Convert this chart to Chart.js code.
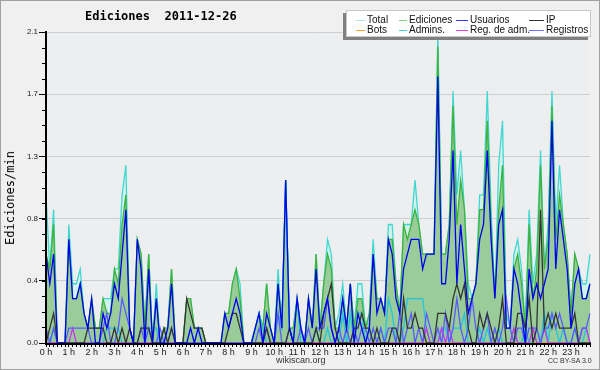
<!DOCTYPE html>
<html>
<head>
<meta charset="utf-8">
<script src="https://cdn.jsdelivr.net/npm/chart.js@4.4.1/dist/chart.umd.min.js"></script>
<style>
body{margin:0;background:#fff}
#caja{position:relative;width:600px;height:370px;overflow:hidden}
#caja canvas{position:absolute;left:0;top:0}
#marco{position:absolute;left:0;top:0;width:600px;height:370px;box-sizing:border-box;border:1px solid #a0a0a0;pointer-events:none}
#titulo{position:absolute;left:85px;top:9px;font:bold 12px "DejaVu Sans Mono",monospace;white-space:pre;color:#000}
#ytitulo{position:absolute;left:10px;top:198px;font:12px "DejaVu Sans Mono",monospace;color:#000;transform:translate(-50%,-50%) rotate(-90deg);white-space:nowrap}
#leyenda{position:absolute;left:346px;top:10px;width:245px;height:27px;background:#fff;border:1px solid #c8c8c8;box-sizing:border-box;box-shadow:-3px 3px 0 #808080;font:10px "Liberation Sans",Arial,sans-serif;color:#111}
#leyenda span{position:absolute;white-space:nowrap;line-height:11px}
#leyenda i{position:absolute;height:1px}
#pie1{position:absolute;left:276px;top:355px;font:9px "Liberation Sans",Arial,sans-serif;color:#333}
#pie2{position:absolute;left:548px;top:357px;font:7px "Liberation Sans",Arial,sans-serif;color:#333}
</style>
</head>
<body>
<div id="caja">
  <canvas id="grafico" width="600" height="370"></canvas>
  <div id="titulo">Ediciones  2011-12-26</div>
  <div id="ytitulo">Ediciones/min</div>
  <div id="leyenda"></div>
  <div id="pie1">wikiscan.org</div>
  <div id="pie2">CC BY-SA 3.0</div>
  <div id="marco"></div>
</div>
<script>
// etiquetas del eje x (una por hora) y del eje y
var horas = ['0 h','1 h','2 h','3 h','4 h','5 h','6 h','7 h','8 h','9 h','10 h','11 h',
             '12 h','13 h','14 h','15 h','16 h','17 h','18 h','19 h','20 h','21 h','22 h','23 h'];
var yTicks = [0, 0.42, 0.84, 1.26, 1.68, 2.1];

// ediciones por minuto, tramos de 10 minutos (6 por hora)
var total = [
 1.0,0.5,0.9,0,0,0,
 0.8,0.4,0.4,0.5,0.2,0.1,
 0.3,0.1,0.1,0.3,0.3,0.3,
 0.5,0.5,1.0,1.2,0.1,0,
 0.7,0.6,0.1,0.6,0,0.4,
 0,0.1,0.1,0.5,0,0,
 0,0.3,0.3,0.1,0.1,0.1,
 0,0,0,0,0,0.2,
 0.2,0.4,0.5,0.4,0,0,
 0,0.1,0.2,0.1,0.4,0.1,
 0,0.5,0.1,1.1,0.1,0.1,
 0.3,0.1,0,0.3,0.1,0.6,
 0.1,0.4,0.7,0.6,0.1,0.2,
 0.4,0.1,0.4,0.1,0.4,0.4,
 0.1,0.2,0.7,0.3,0.3,0.2,
 0.8,0.8,0.4,0.2,0.8,0.8,
 0.8,1.1,0.8,0.6,0.6,0.6,
 0.6,2.1,0.6,0.6,0.8,1.7,
 1.0,1.3,0.9,0.4,0.3,0.4,
 1.0,1.0,1.7,0.9,0.3,1.2,
 1.5,0.2,0.1,0.6,0.7,0.5,
 0.1,0.9,0.4,0.6,1.3,0.5,
 0.8,1.7,0.8,1.2,0.8,0.6,
 0.2,0.6,0.5,0.4,0.4,0.6
];
var ediciones = [
 0.6,0.5,0.8,0,0,0,
 0.7,0.3,0.3,0.4,0.2,0.1,
 0.3,0.1,0.1,0.3,0.2,0.2,
 0.5,0.4,0.8,1.0,0.1,0,
 0.7,0.6,0.1,0.6,0,0.3,
 0,0.1,0.1,0.5,0,0,
 0,0.3,0.3,0.1,0.1,0.1,
 0,0,0,0,0,0.2,
 0.2,0.4,0.5,0.3,0,0,
 0,0.1,0.2,0.1,0.4,0.1,
 0,0.4,0.1,1.1,0.1,0.1,
 0.3,0.1,0,0.3,0.1,0.6,
 0.1,0.4,0.6,0.5,0.1,0.1,
 0.3,0.1,0.4,0.1,0.3,0.3,
 0.1,0.2,0.6,0.3,0.3,0.2,
 0.7,0.7,0.4,0.2,0.8,0.7,
 0.8,0.9,0.8,0.6,0.6,0.6,
 0.6,2.0,0.6,0.6,0.8,1.6,
 0.8,1.1,0.9,0.3,0.3,0.4,
 0.9,0.9,1.5,0.8,0.3,0.9,
 1.2,0.1,0.1,0.5,0.6,0.4,
 0.1,0.8,0.3,0.5,1.2,0.5,
 0.7,1.6,0.7,1.0,0.8,0.6,
 0.2,0.6,0.5,0.3,0.3,0.4
];
var usuarios = [
 0.6,0.4,0.6,0,0,0,
 0.7,0.3,0.3,0.4,0.2,0.1,
 0.3,0,0,0.2,0.1,0.2,
 0.4,0.3,0.6,0.9,0.1,0,
 0.7,0.5,0,0.5,0,0.3,
 0,0,0.1,0.4,0,0,
 0,0,0.1,0,0.1,0,
 0,0,0,0,0,0.2,
 0.1,0.2,0.3,0.2,0,0,
 0,0.1,0.2,0,0.2,0.1,
 0,0.4,0.1,1.1,0.1,0,
 0.3,0.1,0,0.3,0.1,0.5,
 0.1,0.2,0.3,0.1,0,0.1,
 0.3,0.1,0.4,0,0.2,0.1,
 0,0.1,0.6,0.2,0.3,0.2,
 0.7,0.6,0.3,0.2,0.5,0.6,
 0.7,0.7,0.7,0.5,0.6,0.6,
 0.6,1.8,0.4,0.4,0.7,1.3,
 0.4,0.8,0.5,0.2,0.3,0.4,
 0.7,0.8,1.3,0.7,0.3,0.8,
 0.9,0.1,0.1,0.5,0.4,0.2,
 0,0.5,0.3,0.4,0.3,0.4,
 0.5,1.5,0.5,0.9,0.7,0.5,
 0.1,0.4,0.5,0.3,0.3,0.4
];
var ip = [
 0,0.1,0.2,0,0,0,
 0,0,0,0,0,0.1,
 0.1,0.1,0.1,0.1,0,0,
 0.1,0,0.1,0,0.1,0,
 0,0.1,0.1,0.1,0,0,
 0,0.1,0,0.1,0,0,
 0,0.3,0.2,0.1,0.1,0.1,
 0,0,0,0,0,0,
 0.1,0.2,0.2,0.1,0,0,
 0,0,0,0,0.1,0,
 0,0,0,0,0.1,0,
 0,0,0,0,0,0.1,
 0,0.2,0.3,0.4,0.1,0,
 0,0,0,0.1,0.1,0.2,
 0.1,0.1,0,0.1,0,0,
 0,0.1,0.1,0,0.3,0.1,
 0.1,0.2,0.1,0.1,0,0,
 0,0.2,0.2,0.2,0.1,0.3,
 0.4,0.3,0.4,0.1,0,0,
 0.2,0.1,0.2,0.1,0,0.1,
 0.3,0,0,0,0.2,0.2,
 0.1,0.3,0,0.1,0.9,0.1,
 0.2,0.1,0.2,0.1,0.1,0.1,
 0.1,0.2,0,0,0,0
];
var bots = [
 0,0,0,0,0,0, 0,0,0,0,0,0, 0,0,0,0,0,0, 0,0,0,0,0,0,
 0,0,0,0,0,0, 0,0,0,0,0,0, 0,0,0,0,0,0, 0,0,0,0,0,0,
 0,0,0,0,0,0, 0,0,0,0,0,0, 0,0,0,0,0,0, 0,0,0,0,0,0,
 0,0,0,0,0,0, 0,0,0,0,0,0, 0,0,0,0,0,0, 0,0,0,0,0,0,
 0,0,0,0,0,0, 0,0,0,0,0,0, 0,0,0,0,0,0, 0,0,0,0,0,0,
 0,0,0,0,0,0, 0,0,0,0,0,0, 0,0,0,0,0,0, 0,0,0,0,0,0
];
var admins = [
 0,0,0.1,0,0,0,
 0,0,0,0,0,0,
 0,0,0,0,0.1,0.1,
 0.1,0.1,0,0,0,0,
 0,0,0,0.1,0.1,0.1,
 0,0,0,0,0,0,
 0,0,0,0,0,0,
 0,0,0,0,0,0,
 0,0,0,0,0,0,
 0,0.1,0.2,0.1,0,0,
 0,0.2,0.1,1.1,0.1,0,
 0.3,0,0,0,0,0.1,
 0,0,0.1,0,0,0,
 0.2,0,0.2,0,0.2,0.2,
 0,0.1,0,0,0.1,0,
 0.3,0.2,0,0,0.1,0.3,
 0.3,0.3,0.3,0.3,0.1,0,
 0,0,0.1,0.1,0,0.1,
 0.1,0.1,0.2,0,0,0,
 0.1,0,0.1,0,0,0.1,
 0,0,0,0.1,0,0,
 0.1,0,0,0.1,0,0.2,
 0,0.2,0.1,0,0.1,0,
 0,0.1,0,0,0.1,0
];
var regAdm = [
 0,0,0,0,0,0,
 0,0.1,0,0,0,0,
 0,0,0,0,0,0,
 0,0,0,0,0,0,
 0,0,0,0,0,0,
 0,0,0,0,0,0,
 0,0,0,0,0,0,
 0,0,0,0,0,0,
 0,0,0,0,0,0,
 0,0,0,0,0,0,
 0,0,0,0,0,0,
 0,0,0,0,0,0,
 0,0,0,0,0,0,
 0,0,0,0,0,0,
 0,0,0,0,0,0,
 0,0,0,0,0,0,
 0,0,0,0,0.1,0,
 0,0,0.1,0,0.1,0,
 0,0,0,0,0,0,
 0,0,0,0,0,0,
 0,0,0,0.1,0,0,
 0,0,0.1,0,0,0.1,
 0,0,0,0,0,0,
 0,0,0,0.1,0.1,0
];
var registros = [
 0.1,0,0.1,0,0,0,
 0.1,0.1,0.1,0.1,0.1,0.1,
 0,0,0,0.1,0.2,0,
 0,0.1,0.3,0.2,0.1,0,
 0,0.1,0,0.1,0,0,
 0.1,0,0,0.1,0,0,
 0,0,0,0,0,0,
 0,0,0,0,0,0,
 0,0,0,0,0,0,
 0,0,0.1,0,0.1,0,
 0,0.2,0,0,0.1,0,
 0,0.1,0,0.1,0,0.1,
 0.1,0.1,0.3,0.1,0,0.1,
 0,0.1,0,0.1,0,0.1,
 0.1,0,0.1,0,0.1,0,
 0.1,0.1,0,0.2,0,0.1,
 0.2,0,0.1,0,0.2,0.1,
 0,0.1,0,0.2,0,0.1,
 0.3,0.1,0,0.1,0.3,0.1,
 0,0.1,0.2,0,0.1,0,
 0.1,0.3,0.1,0,0.1,0.1,
 0,0.1,0.1,0.1,0,0.1,
 0.1,0.2,0.1,0.2,0.1,0,
 0,0.1,0,0.1,0.1,0.2
];

var series = [
  {nombre:'Total', datos:total, color:'#3fd8d0', ley:'#a8e8e8', relleno:'rgba(205,242,236,0.85)', orden:9},
  {nombre:'Ediciones', datos:ediciones, color:'#3cb43c', ley:'#80d080', relleno:'#99cc99', orden:8},
  {nombre:'Usuarios', datos:usuarios, color:'#0000ee', ley:'#3333ff', orden:2},
  {nombre:'IP', datos:ip, color:'#333333', ley:'#333333', orden:3},
  {nombre:'Bots', datos:bots, color:'#ff9a20', ley:'#ffa030', orden:7},
  {nombre:'Admins.', datos:admins, color:'#22c4e0', ley:'#40d0e0', orden:6},
  {nombre:'Reg. de adm.', datos:regAdm, color:'#cc33ee', ley:'#e040e0', orden:5},
  {nombre:'Registros', datos:registros, color:'#5a5aff', ley:'#7070ff', orden:4}
];

var etiquetas = [];
for (var h = 0; h < 24; h++) {
  for (var m = 0; m < 6; m++) etiquetas.push(h + ':' + m + '0');
}

// leyenda en html, 4 columnas x 2 filas
var colX = [[9,20],[52,62],[109,123],[182,199]];
var ley = document.getElementById('leyenda');
series.forEach(function(s, k){
  var col = k % 4, fila = k < 4 ? 0 : 1;
  var orden = [0,1,2,3,4,5,6,7];
  var c = [0,1,2,3][col];
  var y = fila == 0 ? 3 : 13;
  var i = document.createElement('i');
  i.style.left = colX[c][0] + 'px';
  i.style.width = (colX[c][1] - colX[c][0] - 2) + 'px';
  i.style.top = (y + 6) + 'px';
  i.style.background = s.ley;
  ley.appendChild(i);
  var t = document.createElement('span');
  t.textContent = s.nombre;
  t.style.left = colX[c][1] + 'px';
  t.style.top = y + 'px';
  ley.appendChild(t);
});

var fondo = {
  id: 'fondo',
  beforeDraw: function(c){
    var ctx = c.ctx, a = c.chartArea;
    ctx.save();
    ctx.fillStyle = '#f0f0f0';
    ctx.fillRect(0, 0, c.width, c.height);
    ctx.fillStyle = '#edeef0';
    ctx.fillRect(a.left, a.top, a.right - a.left, a.bottom - a.top);
    ctx.restore();
  },
  afterDraw: function(c){
    var ctx = c.ctx, a = c.chartArea, y = c.scales.y;
    ctx.save();
    ctx.strokeStyle = '#000';
    ctx.lineWidth = 1;
    // marcas menores del eje y
    for (var k = 0; k <= 20; k++) {
      var py = Math.round(y.getPixelForValue(k * 0.105)) + 0.5;
      ctx.beginPath();
      ctx.moveTo(a.left - 4, py);
      ctx.lineTo(a.left, py);
      ctx.stroke();
    }
    // ejes por encima de las lineas
    ctx.lineWidth = 2;
    ctx.beginPath();
    ctx.moveTo(a.left, a.top);
    ctx.lineTo(a.left, a.bottom + 1);
    ctx.lineTo(a.right, a.bottom + 1);
    ctx.stroke();
    ctx.restore();
  }
};

var datasets = series.map(function(s){
  return {
    label: s.nombre,
    data: s.datos,
    borderColor: s.color,
    backgroundColor: s.relleno || s.color,
    fill: s.relleno ? 'origin' : false,
    borderWidth: 1.3,
    pointRadius: 0,
    tension: 0,
    order: s.orden
  };
});

var myChart = new Chart(document.getElementById('grafico'), {
  type: 'line',
  data: { labels: etiquetas, datasets: datasets },
  options: {
    responsive: false,
    animation: false,
    devicePixelRatio: 1,
    layout: { padding: { top: 32, right: 10, bottom: 0, left: 0 } },
    plugins: { legend: { display: false }, tooltip: { enabled: false } },
    scales: {
      x: {
        type: 'category',
        afterFit: function(s){ s.height = 27; },
        grid: { drawOnChartArea: false, drawTicks: true, tickLength: 4, tickColor: '#000', tickWidth: 1 },
        border: { display: true, color: '#000', width: 2 },
        ticks: {
          autoSkip: false, maxRotation: 0, minRotation: 0, padding: 0,
          color: '#222',
          font: { family: 'Liberation Sans', size: 9 },
          callback: function(v, i){ return i % 6 === 0 ? horas[i / 6] : ''; }
        }
      },
      y: {
        min: 0, max: 2.1,
        afterFit: function(s){ s.width = 46; },
        afterBuildTicks: function(s){ s.ticks = yTicks.map(function(v){ return {value: v}; }); },
        grid: {
          color: function(ctx){ return ctx.tick && ctx.tick.value === 0 ? 'rgba(0,0,0,0)' : '#cdcdcd'; },
          tickColor: '#000', tickLength: 7, drawTicks: true
        },
        border: { display: true, color: '#000', width: 2 },
        ticks: {
          padding: 1, color: '#222',
          font: { family: 'Liberation Sans', size: 8 },
          callback: function(v){ return Number(v).toFixed(1); }
        }
      }
    }
  },
  plugins: [fondo]
});
</script>
</body>
</html>
